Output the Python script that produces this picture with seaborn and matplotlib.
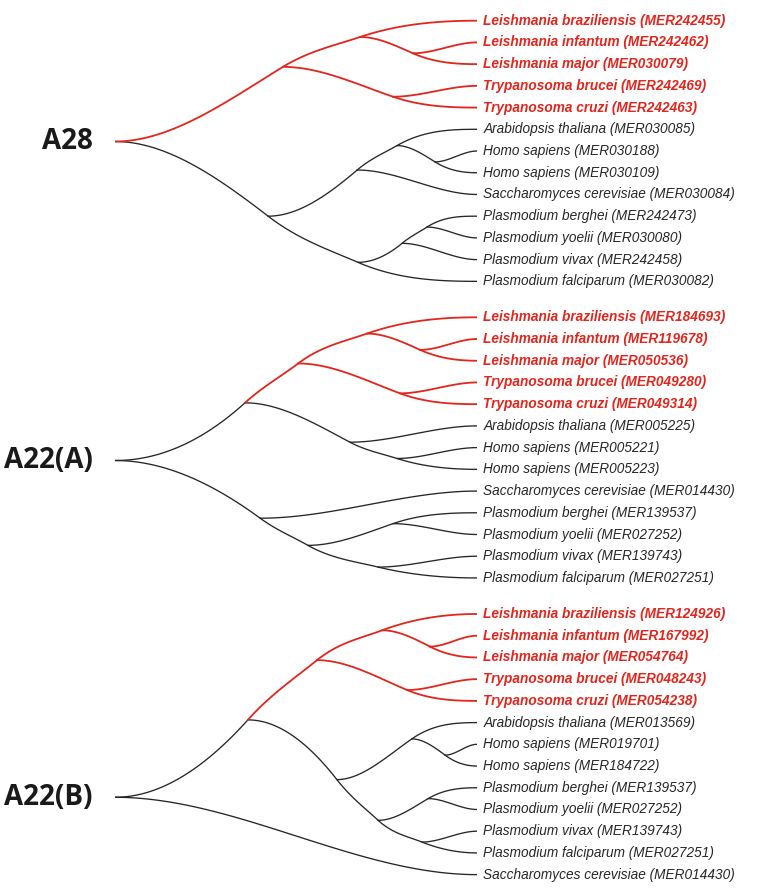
"""
Curved cladograms of the A28 / A22 peptidase families.
"""

import matplotlib
matplotlib.use("Agg")
import matplotlib.pyplot as plt
import numpy as np
import pandas as pd
import seaborn as sns

# ---------------------------------
# Data
# ---------------------------------

TREE_NAMES = ["A28", "A22(A)", "A22(B)"]

A28_LEAVES = [
    "Leishmania braziliensis (MER242455)",
    "Leishmania infantum (MER242462)",
    "Leishmania major (MER030079)",
    "Trypanosoma brucei (MER242469)",
    "Trypanosoma cruzi (MER242463)",
    "Arabidopsis thaliana (MER030085)",
    "Homo sapiens (MER030188)",
    "Homo sapiens (MER030109)",
    "Saccharomyces cerevisiae (MER030084)",
    "Plasmodium berghei (MER242473)",
    "Plasmodium yoelii (MER030080)",
    "Plasmodium vivax (MER242458)",
    "Plasmodium falciparum (MER030082)",
]

A22A_LEAVES = [
    "Leishmania braziliensis (MER184693)",
    "Leishmania infantum (MER119678)",
    "Leishmania major (MER050536)",
    "Trypanosoma brucei (MER049280)",
    "Trypanosoma cruzi (MER049314)",
    "Arabidopsis thaliana (MER005225)",
    "Homo sapiens (MER005221)",
    "Homo sapiens (MER005223)",
    "Saccharomyces cerevisiae (MER014430)",
    "Plasmodium berghei (MER139537)",
    "Plasmodium yoelii (MER027252)",
    "Plasmodium vivax (MER139743)",
    "Plasmodium falciparum (MER027251)",
]

A22B_LEAVES = [
    "Leishmania braziliensis (MER124926)",
    "Leishmania infantum (MER167992)",
    "Leishmania major (MER054764)",
    "Trypanosoma brucei (MER048243)",
    "Trypanosoma cruzi (MER054238)",
    "Arabidopsis thaliana (MER013569)",
    "Homo sapiens (MER019701)",
    "Homo sapiens (MER184722)",
    "Plasmodium berghei (MER139537)",
    "Plasmodium yoelii (MER027252)",
    "Plasmodium vivax (MER139743)",
    "Plasmodium falciparum (MER027251)",
    "Saccharomyces cerevisiae (MER014430)",
]

# (node depth, upper child, lower child); ints are leaf indices, leaves sit at depth 1
A28_TREE = (0.0,
            (0.464, (0.677, 0, (0.823, 1, 2)), (0.768, 3, 4)),
            (0.423, (0.669, (0.779, 5, (0.884, 6, 7)), 8),
                    (0.671, (0.793, (0.862, 9, 10), 11), 12)))

A22A_TREE = (0.0,
             (0.359, (0.506, (0.696, 0, (0.843, 1, 2)), (0.787, 3, 4)),
                     (0.649, 5, (0.779, 6, 7))),
             (0.401, 8, (0.533, (0.768, 9, 10), (0.727, 11, 12))))

A22B_TREE = (0.0,
             (0.367, (0.558, (0.738, 0, (0.870, 1, 2)), (0.807, 3, 4)),
                     (0.613, (0.820, 5, (0.912, 6, 7)),
                             (0.727, (0.865, 8, 9), (0.848, 10, 11)))),
             12)

RED_GENERA = ["Leishmania", "Trypanosoma"]

RED = "#e2261d"
DARK = "#262626"

# ---------------------------------
# Tree layout
# ---------------------------------


def layout(tree, leaves):

    nodes = []

    def walk(t, parent):
        idx = len(nodes)
        nodes.append({"parent": parent, "children": [], "cont": None})
        if isinstance(t, int):
            red = leaves[t].split()[0] in RED_GENERA
            nodes[idx].update(x=1.0, y=float(t), red=red)
        else:
            kids = [walk(c, idx) for c in t[1:]]
            nodes[idx].update(
                x=t[0],
                y=np.mean([nodes[k]["y"] for k in kids]),
                children=kids,
                red=all(nodes[k]["red"] for k in kids),
            )
        return idx

    walk(tree, None)

    # a branch keeps going the way it came in; the other child starts flat
    for n in nodes:
        if not n["children"] or n["parent"] is None:
            continue
        ys = [nodes[c]["y"] for c in n["children"]]
        going_up = n["y"] < nodes[n["parent"]]["y"]
        n["cont"] = n["children"][np.argmin(ys) if going_up else np.argmax(ys)]

    return nodes


def chain_slopes(xs, ys):
    # clamped cubic spline (flat at both ends), kept monotone
    h = np.diff(xs)
    d = np.diff(ys) / h
    n = len(xs)
    m = np.zeros(n)
    if n > 2:
        A = np.zeros((n - 2, n - 2))
        b = np.zeros(n - 2)
        for i in range(1, n - 1):
            r = i - 1
            A[r, r] = 2 * (h[i - 1] + h[i])
            if r > 0:
                A[r, r - 1] = h[i]
            if r < n - 3:
                A[r, r + 1] = h[i - 1]
            b[r] = 3 * (h[i] * d[i - 1] + h[i - 1] * d[i])
        m[1:-1] = 1.2 * np.linalg.solve(A, b)
        for i in range(1, n - 1):
            lim = 3 * min(abs(d[i - 1]), abs(d[i]))
            m[i] = np.sign(d[i - 1]) * min(abs(m[i]), lim)
    return m


def hermite(x0, y0, m0, x1, y1, m1, num=60):

    t = np.linspace(0, 1, num)
    dx = x1 - x0
    h00 = 2 * t**3 - 3 * t**2 + 1
    h10 = t**3 - 2 * t**2 + t
    h01 = -2 * t**3 + 3 * t**2
    h11 = t**3 - t**2
    y = h00 * y0 + h10 * dx * m0 + h01 * y1 + h11 * dx * m1
    return x0 + t * dx, y


def tree_frame(nodes):

    # every branch that starts flat opens a chain running down to a leaf
    starts = []
    for i, n in enumerate(nodes):
        for c in n["children"]:
            if c != n["cont"]:
                starts.append((i, c))

    rows = []
    for start, first in starts:
        chain = [start, first]
        while nodes[chain[-1]]["cont"] is not None:
            chain.append(nodes[chain[-1]]["cont"])
        if nodes[chain[-1]]["children"]:
            chain.append(nodes[chain[-1]]["children"][0])
        xs = np.array([nodes[k]["x"] for k in chain])
        ys = np.array([nodes[k]["y"] for k in chain])
        m = chain_slopes(xs, ys)
        for j in range(len(chain) - 1):
            child = nodes[chain[j + 1]]
            x, y = hermite(xs[j], ys[j], m[j], xs[j + 1], ys[j + 1], m[j + 1])
            rows.append(pd.DataFrame({
                "x": x,
                "y": y,
                "edge": chain[j + 1],
                "clade": "red" if child["red"] else "black",
            }))
    return pd.concat(rows, ignore_index=True)


# ---------------------------------
# Figure
# ---------------------------------

sns.set_style("white")
plt.rcParams["font.family"] = ["Liberation Sans", "DejaVu Sans"]

fig = plt.figure(figsize=(7.65, 8.88), dpi=100)

W, H = 765.0, 888.0
LEFT, RIGHT = 115.0, 477.0
ROW = 21.72
TOPS = [20.7, 317.3, 614.0]

trees = [A28_TREE, A22A_TREE, A22B_TREE]
leaf_sets = [A28_LEAVES, A22A_LEAVES, A22B_LEAVES]

for name, tree, leaves, top in zip(TREE_NAMES, trees, leaf_sets, TOPS):

    n_leaves = len(leaves)
    bottom_px = top + (n_leaves - 0.5) * ROW
    ax = fig.add_axes([
        LEFT / W,
        1 - bottom_px / H,
        (RIGHT - LEFT) / W,
        n_leaves * ROW / H,
    ])

    nodes = layout(tree, leaves)
    df = tree_frame(nodes)

    sns.lineplot(
        data=df,
        x="x",
        y="y",
        units="edge",
        hue="clade",
        size="clade",
        hue_order=["black", "red"],
        palette={"black": DARK, "red": RED},
        sizes={"black": 0.95, "red": 1.3},
        estimator=None,
        sort=False,
        legend=False,
        ax=ax,
    )

    ax.set_xlim(0, 1)
    ax.set_ylim(n_leaves - 0.5, -0.5)
    ax.set_axis_off()

    for i, label in enumerate(leaves):
        red = label.split()[0] in RED_GENERA
        ax.annotate(
            label,
            xy=(1, i),
            xytext=(4.5, 0),
            textcoords="offset points",
            ha="left",
            va="center",
            fontsize=9.8,
            fontstyle="italic",
            fontweight="bold" if red else "normal",
            color=RED if red else DARK,
            annotation_clip=False,
        )

    ax.annotate(
        name,
        xy=(0, nodes[0]["y"]),
        xytext=(-16, 0),
        textcoords="offset points",
        ha="right",
        va="center",
        fontsize=20,
        fontweight="bold",
        family=["Open Sans", "DejaVu Sans"],
        color="#1a1a1a",
        annotation_clip=False,
    )

fig.savefig("out.png", dpi=100, facecolor="white")
plt.close(fig)
